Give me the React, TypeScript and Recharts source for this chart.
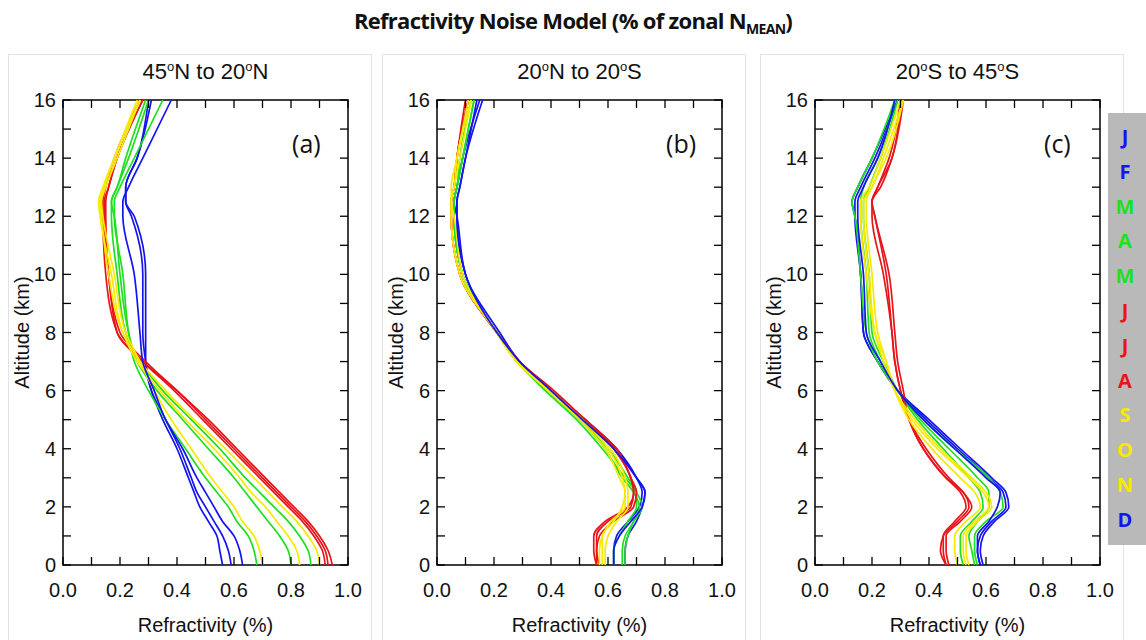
import React from 'react';
import { LineChart, Line, XAxis, YAxis, ReferenceArea, Label } from 'recharts';

// altitude levels (km) shared by every panel
const ALTITUDE = [0, 0.5, 1, 1.5, 2, 2.5, 3, 4, 5, 6, 7, 8, 10, 12, 12.5, 13, 14, 16];

const MONTHS = ['Jan', 'Feb', 'Mar', 'Apr', 'May', 'Jun', 'Jul', 'Aug', 'Sep', 'Oct', 'Nov', 'Dec'];
const MONTH_LETTERS = ['J', 'F', 'M', 'A', 'M', 'J', 'J', 'A', 'S', 'O', 'N', 'D'];

const BLUE = '#1414f0';
const GREEN = '#1ee01e';
const RED = '#e8141a';
const YELLOW = '#f7ea00';
const MONTH_COLORS = [BLUE, BLUE, GREEN, GREEN, GREEN, RED, RED, RED, YELLOW, YELLOW, YELLOW, BLUE];

const X_TICKS = [0, 0.1, 0.2, 0.3, 0.4, 0.5, 0.6, 0.7, 0.8, 0.9, 1.0];
const Y_TICKS = [0, 1, 2, 3, 4, 5, 6, 7, 8, 9, 10, 11, 12, 13, 14, 15, 16];

// refractivity noise (%) per month, one row per month, values follow ALTITUDE
const NH_45_20 = [
  [0.56, 0.55, 0.54, 0.51, 0.48, 0.46, 0.44, 0.40, 0.35, 0.31, 0.29, 0.28, 0.28, 0.24, 0.22, 0.22, 0.26, 0.31],
  [0.59, 0.58, 0.56, 0.53, 0.50, 0.47, 0.45, 0.41, 0.36, 0.31, 0.29, 0.29, 0.29, 0.25, 0.22, 0.22, 0.26, 0.30],
  [0.68, 0.67, 0.65, 0.61, 0.58, 0.54, 0.50, 0.43, 0.36, 0.30, 0.25, 0.23, 0.21, 0.18, 0.18, 0.20, 0.25, 0.35],
  [0.80, 0.79, 0.76, 0.72, 0.68, 0.64, 0.60, 0.51, 0.42, 0.33, 0.26, 0.23, 0.20, 0.18, 0.17, 0.19, 0.23, 0.30],
  [0.87, 0.86, 0.83, 0.79, 0.74, 0.69, 0.64, 0.55, 0.45, 0.35, 0.27, 0.22, 0.19, 0.17, 0.17, 0.19, 0.22, 0.29],
  [0.92, 0.91, 0.88, 0.84, 0.79, 0.74, 0.69, 0.59, 0.49, 0.39, 0.28, 0.19, 0.16, 0.145, 0.145, 0.16, 0.19, 0.28],
  [0.93, 0.92, 0.89, 0.85, 0.80, 0.75, 0.70, 0.60, 0.50, 0.40, 0.28, 0.19, 0.15, 0.14, 0.14, 0.15, 0.18, 0.27],
  [0.945, 0.93, 0.90, 0.86, 0.81, 0.76, 0.71, 0.61, 0.51, 0.40, 0.29, 0.20, 0.16, 0.15, 0.15, 0.16, 0.19, 0.28],
  [0.90, 0.89, 0.86, 0.82, 0.77, 0.72, 0.67, 0.57, 0.46, 0.36, 0.27, 0.21, 0.16, 0.135, 0.13, 0.145, 0.18, 0.27],
  [0.83, 0.82, 0.79, 0.75, 0.71, 0.66, 0.62, 0.53, 0.43, 0.34, 0.26, 0.21, 0.17, 0.13, 0.125, 0.14, 0.18, 0.26],
  [0.70, 0.69, 0.67, 0.63, 0.60, 0.56, 0.52, 0.45, 0.38, 0.32, 0.27, 0.22, 0.18, 0.14, 0.135, 0.15, 0.19, 0.27],
  [0.63, 0.62, 0.60, 0.56, 0.53, 0.50, 0.47, 0.42, 0.36, 0.32, 0.28, 0.27, 0.25, 0.21, 0.21, 0.23, 0.28, 0.38],
];

const TROPICS_20_20 = [
  [0.66, 0.66, 0.67, 0.70, 0.72, 0.73, 0.70, 0.63, 0.52, 0.40, 0.29, 0.22, 0.10, 0.07, 0.07, 0.08, 0.10, 0.16],
  [0.62, 0.62, 0.63, 0.67, 0.71, 0.72, 0.70, 0.63, 0.52, 0.40, 0.29, 0.21, 0.10, 0.07, 0.06, 0.07, 0.09, 0.15],
  [0.66, 0.66, 0.67, 0.69, 0.72, 0.70, 0.66, 0.58, 0.49, 0.38, 0.28, 0.21, 0.09, 0.06, 0.06, 0.07, 0.09, 0.13],
  [0.65, 0.65, 0.66, 0.69, 0.71, 0.69, 0.65, 0.59, 0.50, 0.39, 0.28, 0.21, 0.09, 0.06, 0.06, 0.07, 0.09, 0.13],
  [0.62, 0.62, 0.64, 0.67, 0.70, 0.70, 0.67, 0.60, 0.50, 0.39, 0.28, 0.21, 0.09, 0.06, 0.06, 0.07, 0.08, 0.12],
  [0.56, 0.56, 0.56, 0.60, 0.68, 0.69, 0.68, 0.62, 0.52, 0.40, 0.29, 0.21, 0.08, 0.05, 0.05, 0.06, 0.07, 0.11],
  [0.57, 0.56, 0.57, 0.62, 0.69, 0.70, 0.68, 0.63, 0.52, 0.41, 0.29, 0.21, 0.08, 0.05, 0.05, 0.06, 0.07, 0.11],
  [0.56, 0.55, 0.55, 0.59, 0.67, 0.69, 0.68, 0.62, 0.52, 0.40, 0.29, 0.21, 0.08, 0.05, 0.05, 0.06, 0.07, 0.10],
  [0.57, 0.57, 0.58, 0.61, 0.66, 0.66, 0.64, 0.59, 0.50, 0.39, 0.28, 0.21, 0.08, 0.05, 0.05, 0.05, 0.07, 0.11],
  [0.58, 0.58, 0.58, 0.62, 0.65, 0.66, 0.65, 0.60, 0.51, 0.39, 0.28, 0.21, 0.08, 0.05, 0.05, 0.06, 0.07, 0.12],
  [0.59, 0.59, 0.60, 0.63, 0.67, 0.67, 0.66, 0.61, 0.51, 0.40, 0.28, 0.21, 0.09, 0.06, 0.05, 0.06, 0.08, 0.12],
  [0.62, 0.62, 0.64, 0.68, 0.72, 0.73, 0.70, 0.62, 0.51, 0.40, 0.29, 0.21, 0.10, 0.07, 0.07, 0.08, 0.10, 0.14],
];

const SH_20_45 = [
  [0.58, 0.57, 0.58, 0.62, 0.67, 0.66, 0.61, 0.50, 0.39, 0.29, 0.22, 0.17, 0.16, 0.14, 0.13, 0.15, 0.20, 0.29],
  [0.59, 0.58, 0.59, 0.63, 0.68, 0.67, 0.62, 0.51, 0.40, 0.29, 0.22, 0.17, 0.16, 0.14, 0.14, 0.16, 0.21, 0.29],
  [0.57, 0.56, 0.56, 0.60, 0.66, 0.65, 0.61, 0.49, 0.38, 0.29, 0.22, 0.18, 0.16, 0.14, 0.13, 0.15, 0.20, 0.28],
  [0.56, 0.55, 0.54, 0.57, 0.61, 0.61, 0.57, 0.47, 0.37, 0.29, 0.23, 0.19, 0.18, 0.16, 0.16, 0.17, 0.22, 0.28],
  [0.52, 0.51, 0.51, 0.55, 0.59, 0.58, 0.54, 0.45, 0.36, 0.29, 0.24, 0.20, 0.19, 0.17, 0.17, 0.19, 0.23, 0.29],
  [0.46, 0.45, 0.45, 0.49, 0.53, 0.51, 0.46, 0.38, 0.33, 0.30, 0.28, 0.27, 0.25, 0.21, 0.20, 0.22, 0.27, 0.30],
  [0.46, 0.44, 0.45, 0.50, 0.54, 0.52, 0.46, 0.38, 0.33, 0.31, 0.29, 0.28, 0.26, 0.21, 0.20, 0.23, 0.27, 0.31],
  [0.47, 0.46, 0.46, 0.51, 0.55, 0.52, 0.47, 0.39, 0.33, 0.30, 0.28, 0.27, 0.24, 0.20, 0.20, 0.22, 0.26, 0.30],
  [0.50, 0.49, 0.49, 0.53, 0.58, 0.56, 0.51, 0.41, 0.33, 0.28, 0.25, 0.22, 0.20, 0.18, 0.18, 0.20, 0.25, 0.31],
  [0.53, 0.52, 0.52, 0.56, 0.61, 0.59, 0.54, 0.43, 0.34, 0.28, 0.25, 0.21, 0.19, 0.17, 0.17, 0.20, 0.24, 0.31],
  [0.54, 0.53, 0.53, 0.57, 0.62, 0.60, 0.55, 0.44, 0.35, 0.28, 0.24, 0.21, 0.18, 0.16, 0.16, 0.19, 0.23, 0.30],
  [0.58, 0.57, 0.57, 0.61, 0.64, 0.65, 0.60, 0.49, 0.38, 0.29, 0.23, 0.18, 0.17, 0.15, 0.15, 0.17, 0.22, 0.28],
];

const PLOT_TOP = 100;
const PLOT_BOTTOM = 565;
const PLOT_LEFT = 63;
const CHART_W = 372;
const CHART_H = 640;
const MARGIN_RIGHT = 24;
const PLOT_RIGHT = CHART_W - MARGIN_RIGHT;
const TICK_LEN = 8;
const AXIS_FONT = '"Liberation Sans", Arial, sans-serif';

const toRows = (values: number[][]) =>
  ALTITUDE.map((alt, i) => {
    const row: any = { alt };
    MONTHS.forEach((m, k) => {
      row[m] = values[k][i];
    });
    return row;
  });

const XTick = ({ x, payload }: any) => {
  const v = payload.value;
  const major = Math.round(v * 10) % 2 === 0;
  return (
    <g>
      <line x1={x} x2={x} y1={PLOT_BOTTOM} y2={PLOT_BOTTOM - TICK_LEN} stroke="#000" strokeWidth={1.3} />
      <line x1={x} x2={x} y1={PLOT_TOP} y2={PLOT_TOP + TICK_LEN} stroke="#000" strokeWidth={1.3} />
      {major && (
        <text x={x} y={PLOT_BOTTOM + 32} textAnchor="middle" fontSize={20} fontFamily={AXIS_FONT} fill="#111">
          {v.toFixed(1)}
        </text>
      )}
    </g>
  );
};

const YTick = ({ y, payload }: any) => {
  const v = payload.value;
  const major = v % 2 === 0;
  return (
    <g>
      <line x1={PLOT_LEFT} x2={PLOT_LEFT + TICK_LEN} y1={y} y2={y} stroke="#000" strokeWidth={1.3} />
      <line x1={PLOT_RIGHT} x2={PLOT_RIGHT - TICK_LEN} y1={y} y2={y} stroke="#000" strokeWidth={1.3} />
      {major && (
        <text x={PLOT_LEFT - 7} y={y + 7} textAnchor="end" fontSize={20} fontFamily={AXIS_FONT} fill="#111">
          {v}
        </text>
      )}
    </g>
  );
};

interface PanelProps {
  left: number;
  values: number[][];
  from: string;
  fromHemi: string;
  to: string;
  toHemi: string;
  tag: string;
}

const Panel: React.FC<PanelProps> = ({ left, values, from, fromHemi, to, toHemi, tag }) => {
  const data = toRows(values);
  const center = left + (PLOT_LEFT + PLOT_RIGHT) / 2;
  return (
    <>
      <div
        style={{
          position: 'absolute',
          left: left + 8,
          top: 54,
          width: 364,
          height: 600,
          border: '1px solid #e2e2e2',
          boxSizing: 'border-box',
        }}
      />
      <div
        style={{
          position: 'absolute',
          left: center - 110,
          width: 220,
          top: 59,
          textAlign: 'center',
          fontFamily: AXIS_FONT,
          fontSize: 22,
          color: '#111',
        }}
      >
        {from}
        <sup style={{ fontSize: 13 }}>o</sup>
        {fromHemi} to {to}
        <sup style={{ fontSize: 13 }}>o</sup>
        {toHemi}
      </div>
      <div style={{ position: 'absolute', left: left }}>
        <LineChart
          width={CHART_W}
          height={CHART_H}
          data={data}
          layout="vertical"
          margin={{ top: PLOT_TOP, right: MARGIN_RIGHT, bottom: CHART_H - PLOT_BOTTOM - 30, left: 10 }}
        >
          <XAxis
            type="number"
            domain={[0, 1]}
            ticks={X_TICKS}
            interval={0}
            tick={<XTick />}
            tickLine={false}
            axisLine={false}
            height={30}
          >
            <Label
              value="Refractivity (%)"
              position="bottom"
              offset={23}
              style={{ fontSize: 20, fontFamily: AXIS_FONT, fill: '#111' }}
            />
          </XAxis>
          <YAxis
            type="number"
            dataKey="alt"
            domain={[0, 16]}
            ticks={Y_TICKS}
            interval={0}
            reversed
            tick={<YTick />}
            tickLine={false}
            axisLine={false}
            width={53}
          >
            <Label
              value="Altitude (km)"
              angle={-90}
              position="insideLeft"
              offset={12}
              style={{ fontSize: 20, fontFamily: AXIS_FONT, fill: '#111', textAnchor: 'middle' }}
            />
          </YAxis>
          <ReferenceArea x1={0} x2={1} y1={0} y2={16} fill="none" stroke="#000" strokeWidth={1.5} ifOverflow="visible" />
          {MONTHS.map((m, k) => (
            <Line
              key={m}
              dataKey={m}
              type="monotone"
              stroke={MONTH_COLORS[k]}
              strokeWidth={1.7}
              dot={false}
              isAnimationActive={false}
            />
          ))}
        </LineChart>
      </div>
      <div
        style={{
          position: 'absolute',
          left: left + 292,
          top: 126,
          fontFamily: '"Open Sans", "Noto Sans", sans-serif',
          fontSize: 25,
          color: '#111',
        }}
      >
        ({tag})
      </div>
    </>
  );
};

const App: React.FC = () => {
  return (
    <div
      style={{
        position: 'absolute',
        left: 0,
        top: 0,
        width: 1146,
        height: 640,
        background: '#fff',
        overflow: 'hidden',
      }}
    >
      <div
        style={{
          position: 'absolute',
          left: 0,
          width: 1146,
          top: 5,
          textAlign: 'center',
          fontFamily: '"Open Sans", "Noto Sans", sans-serif',
          fontWeight: 700,
          fontSize: 22,
          letterSpacing: -0.7,
          color: '#111',
        }}
      >
        Refractivity Noise Model (% of zonal N<sub style={{ fontSize: 14 }}>MEAN</sub>)
      </div>
      <Panel left={0} values={NH_45_20} from="45" fromHemi="N" to="20" toHemi="N" tag="a" />
      <Panel left={374} values={TROPICS_20_20} from="20" fromHemi="N" to="20" toHemi="S" tag="b" />
      <Panel left={752} values={SH_20_45} from="20" fromHemi="S" to="45" toHemi="S" tag="c" />
      <div
        style={{
          position: 'absolute',
          left: 1108,
          top: 113,
          width: 38,
          height: 432,
          background: '#b9b9b9',
        }}
      >
        {MONTH_LETTERS.map((l, k) => (
          <div
            key={k}
            style={{
              position: 'absolute',
              left: 0,
              width: 34,
              top: 10 + k * 34.8,
              textAlign: 'center',
              fontFamily: '"Open Sans", "Noto Sans", sans-serif',
              fontWeight: 700,
              fontSize: 20,
              color: MONTH_COLORS[k],
            }}
          >
            {l}
          </div>
        ))}
      </div>
    </div>
  );
};

export default App;
